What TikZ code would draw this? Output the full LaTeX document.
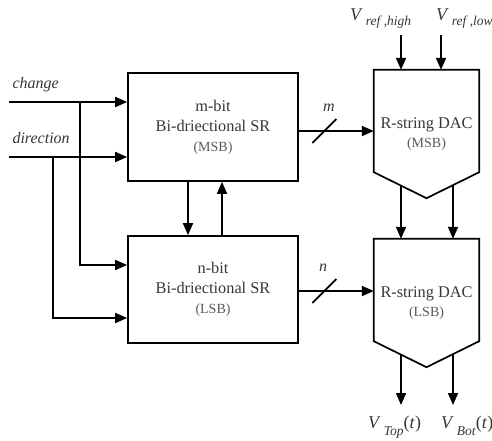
\documentclass[tikz,border=0pt]{standalone}
\usepackage{fontspec}
\setmainfont{Liberation Serif}
\usetikzlibrary{arrows.meta,positioning,calc}
\definecolor{txgris}{RGB}{55,55,55}
\definecolor{subgris}{RGB}{90,90,90}
\newcommand{\vsig}[3]{\textit{V}\,\raisebox{#3}{\fontsize{13.5}{14}\selectfont\textit{#1}}#2}

\begin{document}
\begin{tikzpicture}[x=1pt,y=-1pt,
  blk/.style={rectangle, draw, line width=1.7pt, minimum width=170pt, align=center, inner sep=0pt,
              text=txgris, font=\fontsize{16.3}{20}\selectfont},
  dac/.style={rectangle, minimum width=105pt, minimum height=128pt, align=center, inner sep=0pt,
              text=txgris, font=\fontsize{16.3}{19}\selectfont},
  dacline/.style={line width=1.7pt, line join=miter},
  sig/.style={line width=1.7pt, -{Triangle[length=12pt,width=10pt]}},
  wire/.style={line width=1.7pt},
  lbl/.style={text=txgris, font=\fontsize{16}{18}\selectfont\itshape},
  vlbl/.style={text=txgris, font=\fontsize{18}{20}\selectfont}
]
  \useasboundingbox (0,0) rectangle (492,440);

  % Shift registers
  \node[blk, minimum height=108pt] (srm) at (213,127)
    {m-bit\\ Bi-driectional SR\\ {\fontsize{14}{14}\selectfont\color{subgris}(MSB)}};
  \node[blk, minimum height=107pt] (srl) at (213,289.5)
    {n-bit\\ Bi-driectional SR\\ {\fontsize{14}{14}\selectfont\color{subgris}(LSB)}};

  % DACs
  \node[dac] (dacm) at (426.5,134)
    {R-string DAC\\ {\fontsize{14}{14}\selectfont\color{subgris}(MSB)}};
  \node[dac] (dacl) at (426.5,303)
    {R-string DAC\\ {\fontsize{14}{14}\selectfont\color{subgris}(LSB)}};
  \draw[dacline] (dacm.north west) -- (dacm.north east) -- ($(dacm.south east)+(0,-26)$)
    -- (dacm.south) -- ($(dacm.south west)+(0,-26)$) -- cycle;
  \draw[dacline] (dacl.north west) -- (dacl.north east) -- ($(dacl.south east)+(0,-26)$)
    -- (dacl.south) -- ($(dacl.south west)+(0,-26)$) -- cycle;

  % Inputs
  \coordinate (chg) at (9,102);
  \coordinate (dir) at (9,157);
  \coordinate (chgb) at (80,102);
  \coordinate (dirb) at (53,157);
  \node[lbl, anchor=base west] (chgl) at (9,88) {change};
  \node[lbl, anchor=base west] (dirl) at (9,143) {direction};
  \draw[sig] (chg) -- ([yshift=25pt]srm.west);
  \draw[sig] (dir) -- ([yshift=-30pt]srm.west);
  \draw[sig] (chgb) |- ([yshift=24.5pt]srl.west);
  \draw[sig] (dirb) |- ([yshift=-28.5pt]srl.west);

  % Between registers
  \draw[sig] ([xshift=-25pt]srm.south) -- ([xshift=-25pt]srl.north);
  \draw[sig] ([xshift=9pt]srl.north) -- ([xshift=9pt]srm.south);

  % Buses
  \draw[sig] ([yshift=-4pt]srm.east) -- coordinate[pos=0.34] (mb) ([yshift=-4pt]srm.east -| dacm.west);
  \draw[wire] (mb) ++(-12,12) -- ++(24,-24);
  \node[lbl] (mlbl) at (329,108) {m};
  \draw[sig] ([yshift=-1.5pt]srl.east) -- coordinate[pos=0.34] (nb) ([yshift=-1.5pt]srl.east -| dacl.west);
  \draw[wire] (nb) ++(-12,12) -- ++(24,-24);
  \node[lbl] (nlbl) at (323,268) {n};

  % References
  \coordinate (vh) at (401,35);
  \coordinate (vl) at (441,35);
  \draw[sig] (vh) -- (vh |- dacm.north);
  \draw[sig] (vl) -- (vl |- dacm.north);
  \node[vlbl, anchor=base west, inner sep=0pt] (vhl) at (350,20) {\vsig{ref ,high}{}{-5pt}};
  \node[vlbl, anchor=base west, inner sep=0pt] (vll) at (436,20) {\vsig{ref ,low}{}{-5pt}};

  % MSB to LSB
  \draw[sig] ([xshift=-25.5pt,yshift=13pt]dacm.south) -- ([xshift=-25.5pt]dacm.south |- dacl.north);
  \draw[sig] ([xshift=26.5pt,yshift=13pt]dacm.south) -- ([xshift=26.5pt]dacm.south |- dacl.north);

  % Outputs
  \coordinate (vtop) at (401,405);
  \coordinate (vbot) at (453,405);
  \draw[sig] ([xshift=-25.5pt,yshift=13pt]dacl.south) -- (vtop);
  \draw[sig] ([xshift=26.5pt,yshift=13pt]dacl.south) -- (vbot);
  \node[vlbl, anchor=base west, inner sep=0pt] (vtopl) at (368,428) {\vsig{Top}{(\textit{t})}{-7pt}};
  \node[vlbl, anchor=base west, inner sep=0pt] (vbotl) at (441,428) {\vsig{Bot}{(\textit{t})}{-7pt}};
\end{tikzpicture}
\end{document}
